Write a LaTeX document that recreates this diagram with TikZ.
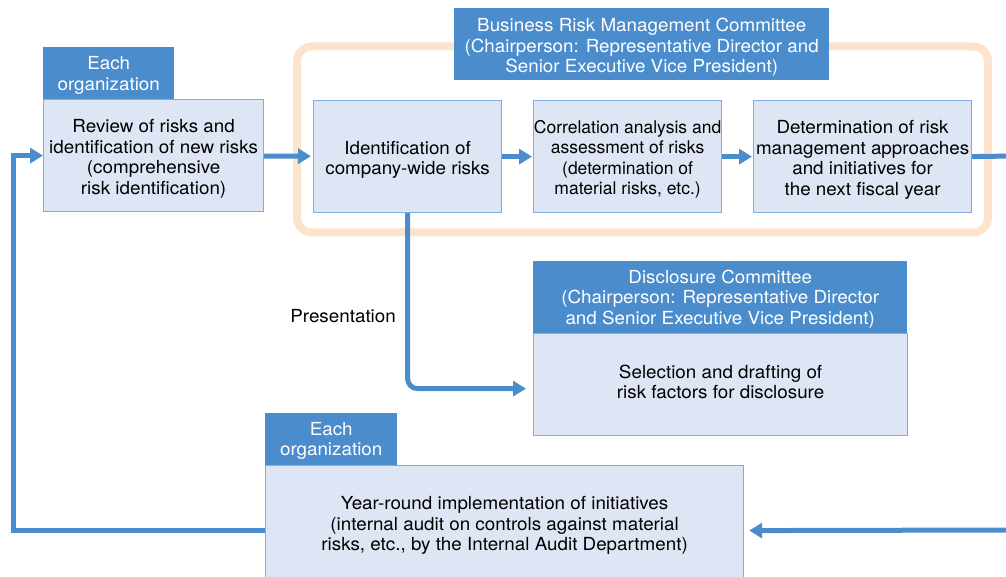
\documentclass[tikz,border=0pt]{standalone}
\usepackage{fontspec}
\setmainfont{TeX Gyre Heros}
\newfontfamily\wideheros[FakeStretch=1.045]{TeX Gyre Heros}
\usetikzlibrary{arrows.meta,positioning}
\definecolor{rmblue}{RGB}{74,140,204}
\definecolor{rmpale}{RGB}{222,229,244}
\definecolor{rmedge}{RGB}{128,172,222}
\definecolor{rmorange}{RGB}{252,227,204}
% struts to nudge multi-line text inside its box
\newcommand\padtop[1]{\rule{0pt}{#1}}
\newcommand\padbot[1]{\rule[-#1]{0pt}{0pt}}

\begin{document}
\begin{tikzpicture}[x=1pt, y=-1pt,
    boxfont/.style={font=\wideheros\fontsize{18}{20.5}\selectfont},
    header/.style={boxfont, anchor=north west, fill=rmblue, text=white, inner sep=0pt, align=center},
    stepbox/.style={boxfont, anchor=north west, draw=rmedge, line width=1.2pt, fill=rmpale, inner sep=0pt,
      align=center},
    flow/.style={draw=rmblue, line width=5pt, -{Triangle[length=13pt,width=15pt]}},
    plain/.style={boxfont, inner sep=0pt}
  ]
  \clip (0,0) rectangle (1006,577);

  % committee frame
  \draw[rmorange, line width=8pt, rounded corners=15pt] (297,46.5) rectangle (988,232.5);

  % top row
  \node[header, minimum width=131pt, minimum height=52pt] (revtab) at (43,47)
    {\padtop{17.5pt}Each\\organization};
  \node[stepbox, minimum width=220pt, minimum height=112pt] (review) at (43,99)
    {\padtop{20pt}Review of risks and\\identification of new risks\\(comprehensive\\risk identification)};
  \node[header, minimum width=375pt, minimum height=72pt] (brmc) at (454,8)
    {\padtop{19.5pt}Business Risk Management Committee\\(Chairperson: Representative Director and\\Senior Executive Vice President)};
  \node[stepbox, minimum width=188pt, minimum height=112pt] (identify) at (313,100)
    {\padtop{19.5pt}Identification of\\company-wide risks};
  \node[stepbox, minimum width=188pt, minimum height=112pt, font=\fontsize{17.5}{20.5}\selectfont] (correlate) at (533,100)
    {\padtop{19pt}Correlation analysis and\\assessment of risks\\(determination of\\material risks, etc.)};
  \node[stepbox, minimum width=218pt, minimum height=112pt] (determine) at (753,100)
    {\padtop{19.5pt}Determination of risk\\management approaches\\and initiatives for\\the next fiscal year};

  % disclosure
  \node[header, minimum width=374pt, minimum height=72pt] (dischead) at (533,261)
    {\padtop{16.5pt}Disclosure Committee\\(Chairperson: Representative Director\\and Senior Executive Vice President)};
  \node[stepbox, minimum width=374pt, minimum height=102pt] (select) at (533,333)
    {Selection and drafting of\\risk factors for disclosure\padbot{6pt}};
  \node[plain, anchor=east] (present) at (396,316) {Presentation};

  % bottom row
  \node[header, minimum width=132pt, minimum height=52pt] (impltab) at (265,413)
    {\padtop{16.5pt}Each\\organization};
  \node[stepbox, minimum width=478pt, minimum height=120pt] (implement) at (265,465)
    {Year-round implementation of initiatives\\(internal audit on controls against material\\risks, etc., by the Internal Audit Department)};

  \coordinate (exitR) at (1012,156);
  \coordinate (entryR) at (1012,530);

  % connectors
  \draw[flow, shorten >=2pt] (review) -- (identify);
  \draw[flow, shorten >=1pt] (identify) -- (correlate);
  \draw[flow, shorten >=1pt] (correlate) -- (determine);
  \draw[draw=rmblue, line width=5pt] (determine.east) -- (exitR);
  \draw[flow, rounded corners=10pt, shorten >=7pt] (identify.south) |- ([yshift=-4pt]select.west);
  \draw[flow, shorten >=5pt] (entryR) -- ([yshift=-5pt]implement.east);
  \draw[flow] ([yshift=-5pt]implement.west) -- ++(-252,0) |- (review.west);
\end{tikzpicture}
\end{document}
